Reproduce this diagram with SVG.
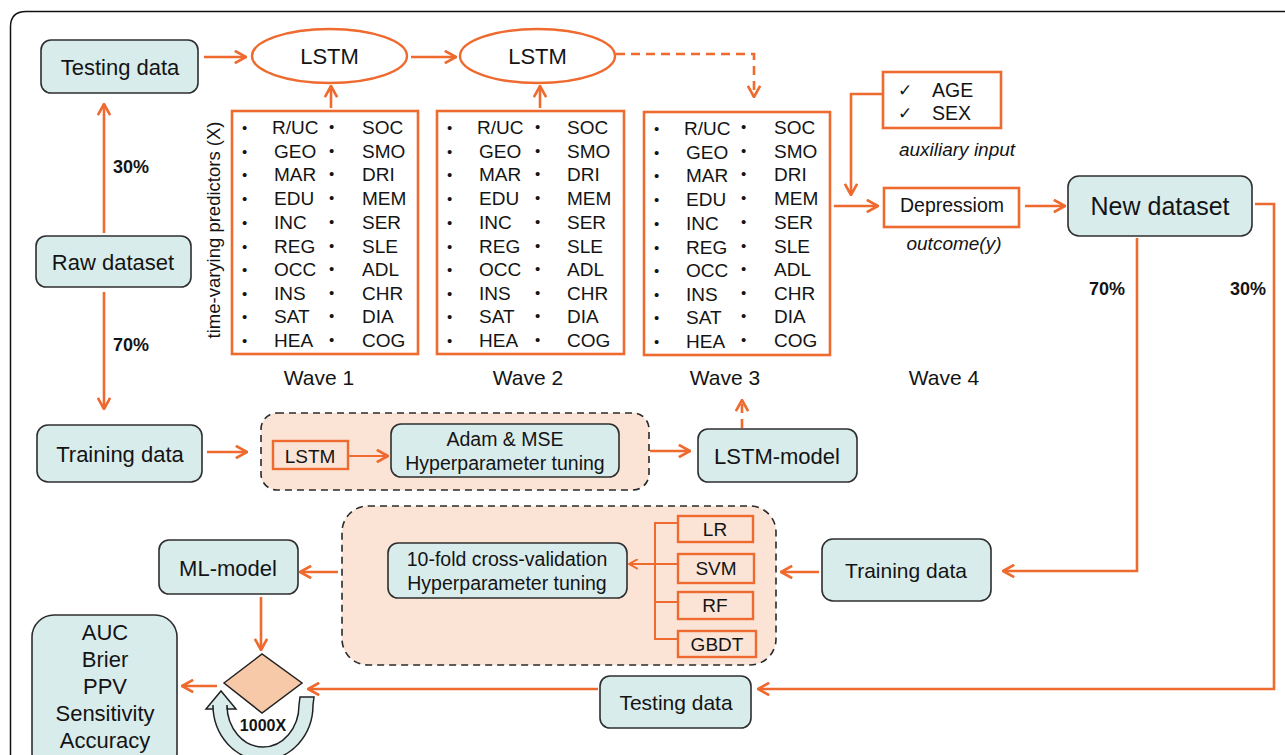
<svg xmlns="http://www.w3.org/2000/svg" width="1285" height="755" viewBox="0 0 1285 755">
  <style>
    text { font-family: "Liberation Sans", Arial, sans-serif; fill: #141414; dominant-baseline: central; }
    .c { text-anchor: middle; }
    .blue { fill: #d9ecec; stroke: #2e2e2e; stroke-width: 1.6; }
    .obox { fill: none; stroke: #ee6a2f; stroke-width: 2.6; }
    .grp { fill: #fbe4d6; stroke: #2a2a2a; stroke-width: 1.6; stroke-dasharray: 7 5; }
    .wire { fill: none; stroke: #ee6a2f; stroke-width: 2.6; }
    .thin { fill: none; stroke: #ee6a2f; stroke-width: 2; }
    .dash { stroke-dasharray: 9 6; }
    .arr { marker-end: url(#ah); }
    .arrs { marker-end: url(#ahs); }
    .lst { font-size: 19px; }
    .bul { font-size: 15px; }
    .pct { font-size: 18px; font-weight: bold; }
    .it { font-style: italic; font-size: 19px; }
    .alg { font-size: 19px; }
  </style>
  <defs>
    <marker id="ah" viewBox="0 0 10 10" refX="9" refY="5" markerWidth="14" markerHeight="14" markerUnits="userSpaceOnUse" orient="auto">
      <path d="M1,0.6 L9,5 L1,9.4" fill="none" stroke="#ee6a2f" stroke-width="1.9"/>
    </marker>
    <marker id="ahs" viewBox="0 0 10 10" refX="9" refY="5" markerWidth="11" markerHeight="11" markerUnits="userSpaceOnUse" orient="auto">
      <path d="M1,0.6 L9,5 L1,9.4" fill="none" stroke="#ee6a2f" stroke-width="1.8"/>
    </marker>
  </defs>

  <rect width="1285" height="755" fill="#ffffff"/>
  <!-- outer frame -->
  <path d="M10.5,760 V27 Q10.5,11.5 26,11.5 H1290" fill="none" stroke="#111" stroke-width="1.5"/>

  <!-- data nodes -->
  <g id="testing-top">
    <rect class="blue" x="41" y="40" width="157" height="53" rx="10"/>
    <text class="c" x="120" y="67" font-size="22">Testing data</text>
  </g>
  <g id="raw-dataset">
    <rect class="blue" x="36" y="236" width="155" height="51" rx="10"/>
    <text class="c" x="113" y="262" font-size="22">Raw dataset</text>
  </g>
  <text class="pct c" x="131" y="167">30%</text>
  <text class="pct c" x="131" y="345">70%</text>
  <g id="training-left">
    <rect class="blue" x="37" y="425" width="165" height="57" rx="11"/>
    <text class="c" x="120" y="454" font-size="22">Training data</text>
  </g>

  <!-- LSTM chain -->
  <g id="lstm-1">
    <ellipse cx="329.5" cy="56" rx="77.5" ry="27" fill="#fff" stroke="#ee6a2f" stroke-width="2.4"/>
    <text class="c" x="329.5" y="56" font-size="22">LSTM</text>
  </g>
  <g id="lstm-2">
    <ellipse cx="537.5" cy="56" rx="77.5" ry="27" fill="#fff" stroke="#ee6a2f" stroke-width="2.4"/>
    <text class="c" x="537.5" y="56" font-size="22">LSTM</text>
  </g>

  <text x="213" y="230" class="c" font-size="18.5" transform="rotate(-90 213 230)">time-varying predictors (X)</text>

  <!-- wave 1 predictors -->
  <g id="wave-1">
    <rect class="obox" x="232" y="111" width="186" height="243"/>
    <g class="bul">
      <text x="242" y="127">•</text><text x="242" y="151">•</text><text x="242" y="174">•</text><text x="242" y="198">•</text><text x="242" y="222">•</text>
      <text x="242" y="246">•</text><text x="242" y="269">•</text><text x="242" y="293">•</text><text x="242" y="316">•</text><text x="242" y="340">•</text>
      <text x="329" y="126">•</text><text x="329" y="150">•</text><text x="329" y="173">•</text><text x="329" y="197">•</text><text x="329" y="221">•</text>
      <text x="329" y="245">•</text><text x="329" y="268">•</text><text x="329" y="292">•</text><text x="329" y="315">•</text><text x="329" y="339">•</text>
    </g>
    <g class="lst">
      <text x="272" y="127">R/UC</text><text x="274" y="151">GEO</text><text x="274" y="174">MAR</text><text x="274" y="198">EDU</text><text x="274" y="222">INC</text>
      <text x="274" y="246">REG</text><text x="274" y="269">OCC</text><text x="274" y="293">INS</text><text x="274" y="316">SAT</text><text x="274" y="340">HEA</text>
      <text x="362" y="127">SOC</text><text x="362" y="151">SMO</text><text x="362" y="174">DRI</text><text x="362" y="198">MEM</text><text x="362" y="222">SER</text>
      <text x="362" y="246">SLE</text><text x="362" y="269">ADL</text><text x="362" y="293">CHR</text><text x="362" y="316">DIA</text><text x="362" y="340">COG</text>
    </g>
    <text class="c" x="319" y="377" font-size="21">Wave 1</text>
  </g>

  <!-- wave 2 predictors -->
  <g id="wave-2">
    <rect class="obox" x="437" y="111" width="187" height="243"/>
    <g class="bul">
      <text x="447" y="127">•</text><text x="447" y="151">•</text><text x="447" y="174">•</text><text x="447" y="198">•</text><text x="447" y="222">•</text>
      <text x="447" y="246">•</text><text x="447" y="269">•</text><text x="447" y="293">•</text><text x="447" y="316">•</text><text x="447" y="340">•</text>
      <text x="535" y="126">•</text><text x="535" y="150">•</text><text x="535" y="173">•</text><text x="535" y="197">•</text><text x="535" y="221">•</text>
      <text x="535" y="245">•</text><text x="535" y="268">•</text><text x="535" y="292">•</text><text x="535" y="315">•</text><text x="535" y="339">•</text>
    </g>
    <g class="lst">
      <text x="477" y="127">R/UC</text><text x="479" y="151">GEO</text><text x="479" y="174">MAR</text><text x="479" y="198">EDU</text><text x="479" y="222">INC</text>
      <text x="479" y="246">REG</text><text x="479" y="269">OCC</text><text x="479" y="293">INS</text><text x="479" y="316">SAT</text><text x="479" y="340">HEA</text>
      <text x="567" y="127">SOC</text><text x="567" y="151">SMO</text><text x="567" y="174">DRI</text><text x="567" y="198">MEM</text><text x="567" y="222">SER</text>
      <text x="567" y="246">SLE</text><text x="567" y="269">ADL</text><text x="567" y="293">CHR</text><text x="567" y="316">DIA</text><text x="567" y="340">COG</text>
    </g>
    <text class="c" x="528" y="377" font-size="21">Wave 2</text>
  </g>

  <!-- wave 3 predictors -->
  <g id="wave-3">
    <rect class="obox" x="644" y="112" width="186" height="243"/>
    <g class="bul">
      <text x="654" y="128">•</text><text x="654" y="152">•</text><text x="654" y="175">•</text><text x="654" y="199">•</text><text x="654" y="223">•</text>
      <text x="654" y="247">•</text><text x="654" y="270">•</text><text x="654" y="294">•</text><text x="654" y="317">•</text><text x="654" y="341">•</text>
      <text x="741" y="126">•</text><text x="741" y="150">•</text><text x="741" y="173">•</text><text x="741" y="197">•</text><text x="741" y="221">•</text>
      <text x="741" y="245">•</text><text x="741" y="268">•</text><text x="741" y="292">•</text><text x="741" y="315">•</text><text x="741" y="339">•</text>
    </g>
    <g class="lst">
      <text x="684" y="128">R/UC</text><text x="686" y="152">GEO</text><text x="686" y="175">MAR</text><text x="686" y="199">EDU</text><text x="686" y="223">INC</text>
      <text x="686" y="247">REG</text><text x="686" y="270">OCC</text><text x="686" y="294">INS</text><text x="686" y="317">SAT</text><text x="686" y="341">HEA</text>
      <text x="774" y="127">SOC</text><text x="774" y="151">SMO</text><text x="774" y="174">DRI</text><text x="774" y="198">MEM</text><text x="774" y="222">SER</text>
      <text x="774" y="246">SLE</text><text x="774" y="269">ADL</text><text x="774" y="293">CHR</text><text x="774" y="316">DIA</text><text x="774" y="340">COG</text>
    </g>
    <text class="c" x="725" y="377" font-size="21">Wave 3</text>
  </g>
  <text class="c" x="944" y="377" font-size="21">Wave 4</text>

  <!-- wave 4 inputs and outcome -->
  <g id="auxiliary">
    <rect class="obox" x="883" y="72" width="118" height="56"/>
    <text x="898" y="90" font-size="17" font-family="DejaVu Sans, sans-serif">✓</text>
    <text x="932" y="90" font-size="19.5">AGE</text>
    <text x="898" y="113" font-size="17" font-family="DejaVu Sans, sans-serif">✓</text>
    <text x="932" y="113" font-size="19.5">SEX</text>
    <text class="it c" x="957" y="149">auxiliary input</text>
  </g>
  <g id="outcome">
    <rect class="obox" x="884" y="188" width="135" height="39"/>
    <text class="c" x="952" y="205" font-size="19.5">Depressiom</text>
    <text class="it c" x="954" y="243">outcome(y)</text>
  </g>
  <g id="new-dataset">
    <rect class="blue" x="1068" y="176" width="184" height="60" rx="11"/>
    <text class="c" x="1160" y="206" font-size="25">New dataset</text>
  </g>
  <text class="pct c" x="1107" y="289">70%</text>
  <text class="pct c" x="1248" y="289">30%</text>

  <!-- LSTM training block -->
  <g id="lstm-training">
    <rect class="grp" x="261" y="413" width="388" height="77" rx="16"/>
    <rect x="273" y="441" width="75" height="28" fill="none" stroke="#ee6a2f" stroke-width="2.4"/>
    <text class="c" x="310" y="456" font-size="19">LSTM</text>
    <rect class="blue" x="391" y="424" width="228" height="53" rx="10"/>
    <text class="c" x="505" y="439" font-size="19.5">Adam &amp; MSE</text>
    <text class="c" x="505" y="463" font-size="19.5">Hyperparameter tuning</text>
  </g>
  <g id="lstm-model">
    <rect class="blue" x="698" y="429" width="159" height="53" rx="10"/>
    <text class="c" x="777" y="456" font-size="22">LSTM-model</text>
  </g>

  <!-- ML training block -->
  <g id="ml-training">
    <rect class="grp" x="342" y="506" width="434" height="159" rx="26"/>
    <rect class="blue" x="388" y="543" width="239" height="55" rx="10"/>
    <text class="c" x="507" y="559" font-size="19.5">10-fold cross-validation</text>
    <text class="c" x="507" y="583" font-size="19.5">Hyperparameter tuning</text>
    <rect x="678" y="516" width="75" height="26" fill="none" stroke="#ee6a2f" stroke-width="2.4"/>
    <text class="c alg" x="715" y="529">LR</text>
    <rect x="678" y="554" width="76" height="29" fill="none" stroke="#ee6a2f" stroke-width="2.4"/>
    <text class="c alg" x="716" y="568">SVM</text>
    <rect x="678" y="592" width="75" height="27" fill="none" stroke="#ee6a2f" stroke-width="2.4"/>
    <text class="c alg" x="715" y="605">RF</text>
    <rect x="678" y="631" width="78" height="26" fill="none" stroke="#ee6a2f" stroke-width="2.4"/>
    <text class="c alg" x="717" y="644">GBDT</text>
  </g>
  <g id="training-right">
    <rect class="blue" x="822" y="539" width="169" height="62" rx="11"/>
    <text class="c" x="906" y="570" font-size="21">Training data</text>
  </g>
  <g id="testing-bottom">
    <rect class="blue" x="600" y="676" width="151" height="52" rx="10"/>
    <text class="c" x="676" y="702" font-size="21">Testing data</text>
  </g>
  <g id="ml-model">
    <rect class="blue" x="159" y="540" width="139" height="54" rx="10"/>
    <text class="c" x="228" y="568" font-size="22">ML-model</text>
  </g>

  <!-- evaluation loop -->
  <g id="evaluation">
    <polygon points="224,683 262,654 302,683 262,713" fill="#f8c9a9" stroke="#222" stroke-width="1.5"/>
    <path d="M314,697 L313,705 A50,55 0 0 1 213,705 L213,709 L206,709 L221,691 L236,709 L227,709 L227,705 A36,42 0 0 0 299,705 L300,697 Z" fill="#d9ecec" stroke="#222" stroke-width="1.5"/>
    <text class="c" x="263" y="725" font-size="16" font-weight="bold">1000X</text>
  </g>
  <g id="metrics">
    <rect class="blue" x="32" y="615" width="145" height="160" rx="22"/>
    <text class="c" x="105" y="632" font-size="22">AUC</text>
    <text class="c" x="105" y="659" font-size="22">Brier</text>
    <text class="c" x="105" y="686" font-size="22">PPV</text>
    <text class="c" x="105" y="713" font-size="22">Sensitivity</text>
    <text class="c" x="105" y="740" font-size="22">Accuracy</text>
  </g>

  <!-- connectors -->
  <g id="connectors">
    <path class="wire arr" d="M104,233 V104"/>
    <path class="wire arr" d="M104,292 V409"/>
    <path class="wire arr" d="M204,57 H246"/>
    <path class="wire arr" d="M411,57 H456"/>
    <path class="wire arr" d="M331,108 V86"/>
    <path class="wire arr" d="M540,108 V86"/>
    <path class="wire dash arr" d="M616,54 H754 V97"/>
    <path class="wire arr" d="M883,94 H851 V195"/>
    <path class="wire arr" d="M834,206 H878"/>
    <path class="wire arr" d="M1025,206 H1065"/>
    <path class="wire arr" d="M1255,204 H1274 V689 H758"/>
    <path class="wire arr" d="M1137,238 V571 H1003"/>
    <path class="wire arr" d="M207,452 H247"/>
    <path class="thin arr" d="M348,456 H388"/>
    <path class="wire arr" d="M650,451 H690"/>
    <path class="wire dash arr" d="M742,428 V400"/>
    <path class="wire arr" d="M819,572 H781"/>
    <path class="thin" d="M677,523 H655 V639 H677 M655,564 H677 M655,602 H677"/>
    <path class="thin arrs" d="M655,564 H629"/>
    <path class="wire arr" d="M338,572 H300"/>
    <path class="wire arr" d="M261,597 V650"/>
    <path class="wire arr" d="M598,689 H308"/>
    <path class="wire arr" d="M217,686 H182"/>
  </g>
</svg>
